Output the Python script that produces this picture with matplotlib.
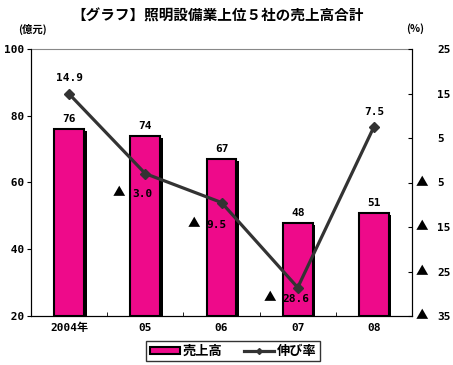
import matplotlib
matplotlib.use("Agg")
import matplotlib.pyplot as plt
import numpy as np
from matplotlib.patches import Patch
from matplotlib.lines import Line2D

plt.rcParams['font.family'] = ['Noto Sans CJK JP', 'DejaVu Sans']
plt.rcParams['font.weight'] = 'bold'
MONO = ['DejaVu Sans Mono', 'Noto Sans CJK JP']
CJK = ['Noto Sans CJK JP', 'DejaVu Sans']

categories = ["2004年", "05", "06", "07", "08"]
sales = [76, 74, 67, 48, 51]
growth = [14.9, -3.0, -9.5, -28.6, 7.5]
left_ticks = [20, 40, 60, 80, 100]
right_ticks = [25, 15, 5, -5, -15, -25, -35]

# label offsets in pixels (layout only)
growth_label_offsets = [(0, 16), (-13, -19), (-15, -21), (-15, -10), (0, 15)]

fig = plt.figure(figsize=(4.53, 3.65), dpi=100)
ax = fig.add_axes([31/453, 1-316/365, (412-31)/453, (316-49)/365])
ax2 = ax.twinx()

x = np.arange(len(categories))
bw = 0.39
pink = "#EE0A8A"
ax.bar(x + 0.035, np.array(sales) - 20, bottom=19.3, width=bw, color="black", zorder=1)
ax.bar(x, np.array(sales) - 20, bottom=20, width=bw, color=pink, edgecolor="black", linewidth=1.5, zorder=2)
for xi, v in zip(x, sales):
    ax.annotate(str(v), (xi, v), xytext=(0, 10), textcoords="offset pixels",
                ha="center", va="center", fontsize=8, fontweight="bold", family=MONO)

ax.set_xlim(-0.5, len(categories) - 0.5)
ax.set_ylim(20, 100)
ax.set_yticks(left_ticks)
ax.set_yticklabels([f"{t:3d}" for t in left_ticks], fontsize=8, fontweight="bold", family=MONO)
ax.set_xticks(x)
ax.set_xticklabels(categories, fontsize=8, fontweight="bold", family=MONO)
ax.tick_params(axis="x", length=0, pad=5)
ax.set_xticks(np.arange(0.5, len(categories) - 0.5, 1), minor=True)
ax.tick_params(axis="x", which="minor", length=3, direction="in")
ax.tick_params(axis="y", length=3, direction="out", pad=2)
ax.spines["top"].set_color("#888888")

ax2.plot(x, growth, color="#333333", lw=2.3, marker="D", ms=5.5, zorder=5)
ax2.set_ylim(-35, 25)
ax2.set_yticks(right_ticks)
ax2.tick_params(axis="y", length=3, direction="in", labelright=False)
ax2.spines["top"].set_visible(False)
ytr = ax2.get_yaxis_transform()
x_num = (437 - 31) / 381
x_tri = (422 - 31) / 381
for t in right_ticks:
    ax2.annotate(str(abs(t)), (x_num, t), xycoords=ytr, xytext=(0, -1), textcoords="offset pixels",
                 ha="left", va="center", fontsize=8, fontweight="bold", family=MONO, annotation_clip=False)
    if t < 0:
        ax2.text(x_tri, t, "▲", transform=ytr, ha="center", va="center",
                 fontsize=9, fontweight="bold", family=CJK, clip_on=False)

for xi, v, (dx, dy) in zip(x, growth, growth_label_offsets):
    if v >= 0:
        ax2.annotate(f"{v:.1f}", (xi, v), xytext=(dx, dy), textcoords="offset pixels",
                     ha="center", va="center", fontsize=8, fontweight="bold", family=MONO, zorder=6)
    else:
        ax2.annotate(f"{abs(v):.1f}", (xi, v), xytext=(dx, dy - 1), textcoords="offset pixels",
                     ha="left", va="center", fontsize=8, fontweight="bold", family=MONO, zorder=6)
        ax2.annotate("▲", (xi, v), xytext=(dx - 13, dy), textcoords="offset pixels",
                     ha="center", va="center", fontsize=9, fontweight="bold", family=CJK, zorder=6)

fig.text(218/453, 1-16/365, "【グラフ】照明設備業上位５社の売上高合計", ha="center", va="center",
         fontsize=10.5, fontweight="bold")
fig.text(32/453, 1-29/365, "(億元)", ha="center", va="center", fontsize=7.5, fontweight="bold")
fig.text(415/453, 1-29/365, "(%)", ha="center", va="center", fontsize=7.5, fontweight="bold")

handles = [Patch(facecolor=pink, edgecolor="black", linewidth=1.5, label="売上高"),
           Line2D([0], [0], color="#333333", lw=2.3, marker="D", ms=3, label="伸び率")]
leg = fig.legend(handles=handles, loc="center", bbox_to_anchor=(233/453, 1-351/365), ncol=2,
                 fontsize=9.5, frameon=True, fancybox=False, edgecolor="black",
                 handlelength=2.3, handleheight=0.5, columnspacing=1.6, borderpad=0.25, handletextpad=0.2)
leg.get_frame().set_linewidth(1.0)

fig.savefig("out.png", dpi=100)
